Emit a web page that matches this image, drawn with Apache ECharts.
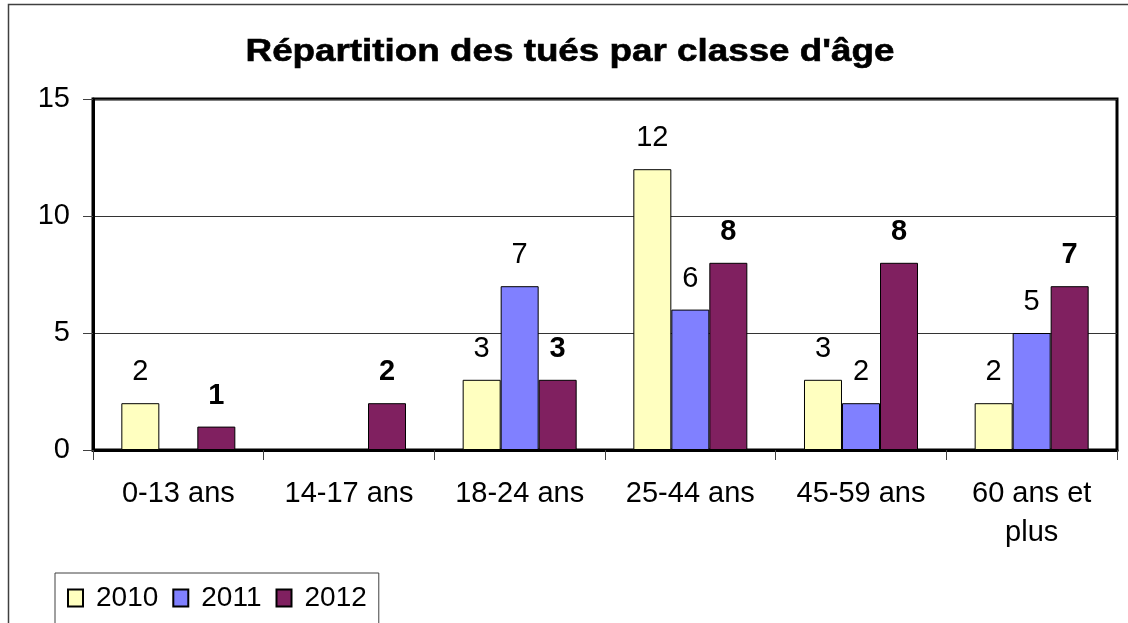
<!DOCTYPE html>
<html>
<head>
<meta charset="utf-8">
<script src="https://cdn.jsdelivr.net/npm/echarts@6/dist/echarts.min.js"></script>
<style>
html,body{margin:0;padding:0;background:#fff;}
#chart{width:1128px;height:623px;}
</style>
</head>
<body>
<div id="chart"></div>
<script>
const titleText = "Répartition des tués par classe d'âge";
const categories = ['0-13 ans', '14-17 ans', '18-24 ans', '25-44 ans', '45-59 ans', '60 ans et\nplus'];
const seriesNames = ['2010', '2011', '2012'];
const values2010 = [2, null, 3, 12, 3, 2];
const values2011 = [null, null, 7, 6, 2, 5];
const values2012 = [1, 2, 3, 8, 8, 7];
const yTicks = { min: 0, max: 15, interval: 5 };

const FONT = "'Liberation Sans', Arial, Helvetica, sans-serif";
const colors = ['#FFFFC0', '#8080FF', '#802060'];

function makeSeries(name, data, color, bold) {
  return {
    name: name,
    type: 'bar',
    data: data,
    barGap: '0%',
    barCategoryGap: '33.2%',
    itemStyle: { color: color, borderColor: '#000', borderWidth: 1 },
    label: {
      show: true,
      position: 'top',
      distance: 15,
      color: '#000',
      fontFamily: FONT,
      fontSize: 29,
      lineHeight: 32,
      fontWeight: bold ? 'bold' : 'normal'
    },
    emphasis: { disabled: true }
  };
}

const chart = echarts.init(document.getElementById('chart'));
chart.setOption({
  animation: false,
  backgroundColor: '#fff',
  textStyle: { fontFamily: FONT },
  graphic: [
    {
      type: 'rect',
      shape: { x: 8.5, y: 4.5, width: 1300, height: 800 },
      style: { fill: 'none', stroke: '#404040', lineWidth: 1.5 },
      silent: true,
      z: -10
    },
    {
      type: 'text',
      x: 570,
      y: 52,
      scaleX: 1.15,
      style: {
        text: titleText,
        font: 'bold 32px ' + FONT,
        fill: '#000',
        stroke: '#000',
        lineWidth: 0.6,
        textAlign: 'center',
        textVerticalAlign: 'middle'
      },
      silent: true
    }
  ],
  legend: {
    data: seriesNames,
    left: 55,
    top: 573,
    orient: 'horizontal',
    padding: [9, 12, 40, 12],
    borderColor: '#404040',
    borderWidth: 1,
    itemWidth: 15,
    itemHeight: 17,
    itemGap: 14,
    icon: 'rect',
    textStyle: { fontFamily: FONT, fontSize: 28, lineHeight: 32, color: '#000', padding: [0, 0, 0, 8] }
  },
  grid: {
    left: 93,
    right: 11,
    top: 99,
    bottom: 173,
    show: true,
    borderColor: '#000',
    borderWidth: 3,
    containLabel: false
  },
  xAxis: {
    type: 'category',
    data: categories,
    axisLine: { show: true, lineStyle: { color: '#000', width: 3 } },
    axisTick: { show: true, alignWithLabel: false, length: 10, lineStyle: { color: '#404040', width: 1 } },
    axisLabel: {
      interval: 0,
      margin: 24,
      color: '#000',
      fontFamily: FONT,
      fontSize: 29,
      lineHeight: 39
    },
    splitLine: { show: false }
  },
  yAxis: {
    type: 'value',
    min: yTicks.min,
    max: yTicks.max,
    interval: yTicks.interval,
    axisLine: { show: true, lineStyle: { color: '#000', width: 3 } },
    axisTick: { show: true, length: 10, lineStyle: { color: '#404040', width: 1 } },
    axisLabel: { margin: 23, color: '#000', fontFamily: FONT, fontSize: 29 },
    splitLine: { show: true, lineStyle: { color: '#333', width: 1 } }
  },
  series: [
    makeSeries(seriesNames[0], values2010, colors[0], false),
    makeSeries(seriesNames[1], values2011, colors[1], false),
    makeSeries(seriesNames[2], values2012, colors[2], true)
  ]
});
</script>
</body>
</html>
